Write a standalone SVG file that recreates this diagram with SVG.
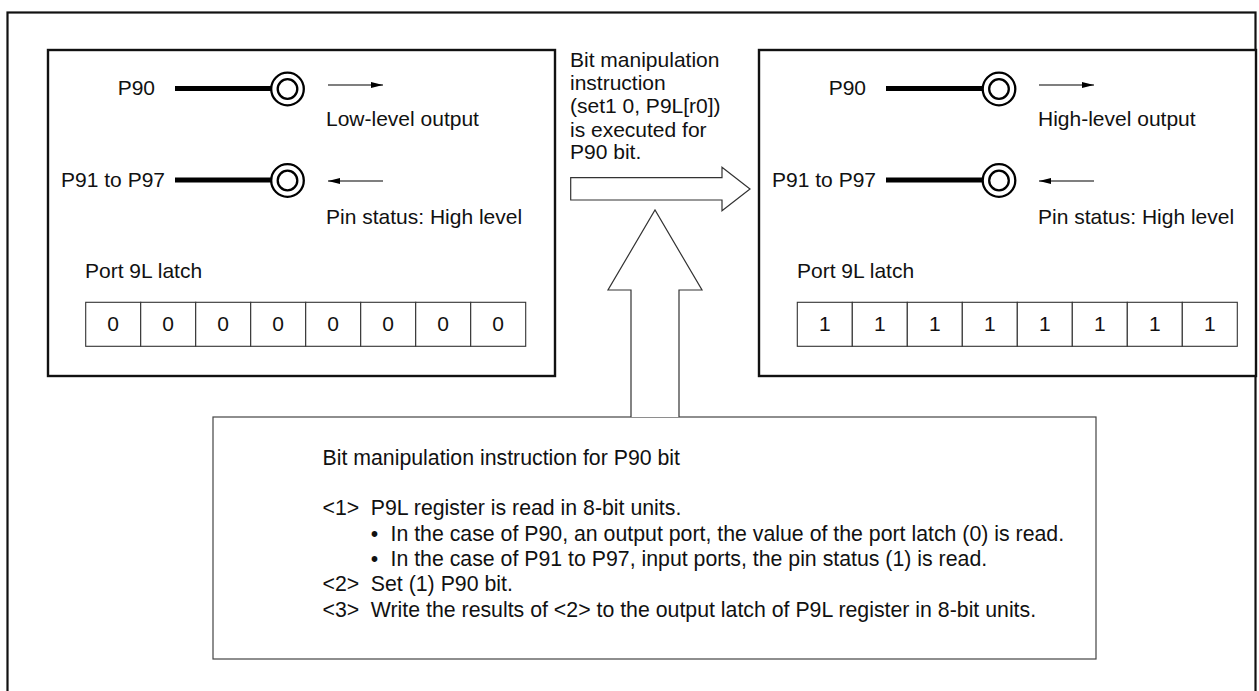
<svg xmlns="http://www.w3.org/2000/svg" width="1259" height="691" viewBox="0 0 1259 691">
<style>
text{font-family:"Liberation Sans",Arial,Helvetica,sans-serif;font-size:21px;fill:#111}
.small{font-size:21.3px}
.frame{fill:none;stroke:#111;stroke-width:2.2}
.box{fill:#fff;stroke:#111;stroke-width:2.4}
.thin{fill:#fff;stroke:#444;stroke-width:1.2}
.pinline{stroke:#000;stroke-width:5}
.ring{fill:#fff;stroke:#000;stroke-width:2.3}
.cell{fill:#fff;stroke:#333;stroke-width:1.1}
.arr{stroke:#000;stroke-width:1.1;fill:none}
.hollow{fill:#fff;stroke:#333;stroke-width:1.2}
.mid{text-anchor:middle}
.end{text-anchor:end}
</style>
<defs>
<marker id="ah" viewBox="0 0 12 6" refX="12" refY="3" markerWidth="12" markerHeight="6" markerUnits="userSpaceOnUse" orient="auto">
<path d="M0,0 L12,3 L0,6 Z" fill="#000"/>
</marker>
<g id="latchcells">
<rect class="cell" x="0" y="0" width="55" height="44"/>
<rect class="cell" x="55" y="0" width="55" height="44"/>
<rect class="cell" x="110" y="0" width="55" height="44"/>
<rect class="cell" x="165" y="0" width="55" height="44"/>
<rect class="cell" x="220" y="0" width="55" height="44"/>
<rect class="cell" x="275" y="0" width="55" height="44"/>
<rect class="cell" x="330" y="0" width="55" height="44"/>
<rect class="cell" x="385" y="0" width="55" height="44"/>
</g>
</defs>
<rect width="1259" height="691" fill="#fff"/>
<g id="outer-frame">
<rect class="frame" x="7.5" y="12.5" width="1248" height="700"/>
</g>
<g id="before-state">
<rect class="box" x="48" y="50" width="507" height="326"/>
<text class="end" x="155" y="95">P90</text>
<line class="pinline" x1="175" y1="88.5" x2="272" y2="88.5"/>
<circle class="ring" cx="287.5" cy="89" r="16.3"/>
<circle class="ring" cx="287.5" cy="89" r="9.8"/>
<line class="arr" x1="328" y1="85" x2="383" y2="85" marker-end="url(#ah)"/>
<text x="326" y="126">Low-level output</text>
<text class="end" x="165" y="187">P91 to P97</text>
<line class="pinline" x1="175" y1="180" x2="272" y2="180"/>
<circle class="ring" cx="287.5" cy="180.5" r="16.3"/>
<circle class="ring" cx="287.5" cy="180.5" r="9.8"/>
<line class="arr" x1="383" y1="181" x2="328" y2="181" stroke="#555" marker-end="url(#ah)"/>
<text x="326" y="224">Pin status: High level</text>
<text x="85" y="278">Port 9L latch</text>
<use href="#latchcells" x="85.7" y="302.3"/>
<text class="mid" x="113.2" y="331">0</text>
<text class="mid" x="168.2" y="331">0</text>
<text class="mid" x="223.2" y="331">0</text>
<text class="mid" x="278.2" y="331">0</text>
<text class="mid" x="333.2" y="331">0</text>
<text class="mid" x="388.2" y="331">0</text>
<text class="mid" x="443.2" y="331">0</text>
<text class="mid" x="498.2" y="331">0</text>
</g>
<g id="after-state">
<rect class="box" x="759" y="50" width="497" height="326"/>
<text class="end" x="866" y="95">P90</text>
<line class="pinline" x1="886" y1="88.5" x2="983" y2="88.5"/>
<circle class="ring" cx="999" cy="89" r="16.3"/>
<circle class="ring" cx="999" cy="89" r="9.8"/>
<line class="arr" x1="1039" y1="85" x2="1094" y2="85" marker-end="url(#ah)"/>
<text x="1038" y="126">High-level output</text>
<text class="end" x="876" y="187">P91 to P97</text>
<line class="pinline" x1="886" y1="180" x2="983" y2="180"/>
<circle class="ring" cx="999" cy="180.5" r="16.3"/>
<circle class="ring" cx="999" cy="180.5" r="9.8"/>
<line class="arr" x1="1094" y1="181" x2="1039" y2="181" stroke="#555" marker-end="url(#ah)"/>
<text x="1038" y="224">Pin status: High level</text>
<text x="797" y="278">Port 9L latch</text>
<use href="#latchcells" x="797.3" y="302.3"/>
<text class="mid" x="824.8" y="331">1</text>
<text class="mid" x="879.8" y="331">1</text>
<text class="mid" x="934.8" y="331">1</text>
<text class="mid" x="989.8" y="331">1</text>
<text class="mid" x="1044.8" y="331">1</text>
<text class="mid" x="1099.8" y="331">1</text>
<text class="mid" x="1154.8" y="331">1</text>
<text class="mid" x="1209.8" y="331">1</text>
</g>
<g id="instruction-label">
<text x="570" y="67">Bit manipulation</text>
<text x="570" y="90">instruction</text>
<text x="570" y="113">(set1 0, P9L[r0])</text>
<text x="570" y="136.5">is executed for</text>
<text x="570" y="159">P90 bit.</text>
</g>
<g id="explanation">
<rect class="thin" x="213" y="417" width="883" height="242"/>
<text class="small" x="322.5" y="465">Bit manipulation instruction for P90 bit</text>
<text class="small" x="322.5" y="515">&lt;1&gt;</text>
<text class="small" x="370.8" y="515">P9L register is read in 8-bit units.</text>
<text class="small" x="370.8" y="540.5">•</text>
<text class="small" x="390.5" y="540.5">In the case of P90, an output port, the value of the port latch (0) is read.</text>
<text class="small" x="370.8" y="565.5">•</text>
<text class="small" x="390.5" y="565.5">In the case of P91 to P97, input ports, the pin status (1) is read.</text>
<text class="small" x="322.5" y="591">&lt;2&gt;</text>
<text class="small" x="370.8" y="591">Set (1) P90 bit.</text>
<text class="small" x="322.5" y="616.5">&lt;3&gt;</text>
<text class="small" x="370.8" y="616.5">Write the results of &lt;2&gt; to the output latch of P9L register in 8-bit units.</text>
</g>
<g id="connectors">
<polygon class="hollow" points="570.7,177.7 722,177.7 722,167.3 750,189 722,210.7 722,200 570.7,200"/>
<polyline class="hollow" points="631,417 631,290 608,290 655,210 702,290 679,290 679,417"/>
</g>
</svg>
